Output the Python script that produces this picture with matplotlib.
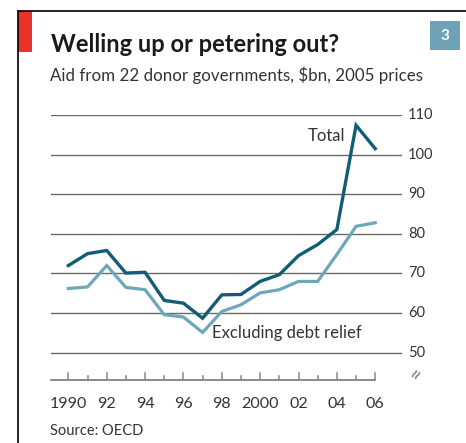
import matplotlib
matplotlib.use("Agg")
from matplotlib import pyplot as plt
from matplotlib.lines import Line2D
from matplotlib.patches import Rectangle

years = list(range(1990, 2007))
total = [72.0, 75.0, 75.8, 70.1, 70.3, 63.2, 62.5, 58.7, 64.6, 64.7,
         68.0, 69.7, 74.5, 77.3, 81.1, 107.4, 101.5]
excl_debt = [66.2, 66.6, 72.0, 66.5, 65.9, 59.6, 59.0, 55.1, 60.4, 62.1,
             65.1, 65.9, 68.0, 68.0, 74.8, 81.9, 82.8]
y_ticks = [50, 60, 70, 80, 90, 100, 110]
x_labels = ['1990', '92', '94', '96', '98', '2000', '02', '04', '06']

dark = '#115d75'
light = '#6da7ba'
grid_col = '#6a6a6a'
txt = '#333333'

plt.rcParams['font.family'] = ['Lato', 'DejaVu Sans']

W, H = 466, 443
fig = plt.figure(figsize=(W / 100, H / 100), dpi=100)

def fx(px):
    return px / W

def fy(py):
    return 1 - py / H

# frame + red tag
fig.add_artist(Line2D([fx(17.7), fx(17.7)], [fy(10.7), fy(443)], color='black', lw=1.2))
fig.add_artist(Line2D([fx(17.7), 1], [fy(10.7), fy(10.7)], color='black', lw=1.2))
fig.add_artist(Rectangle((fx(18), fy(52)), fx(13.7), (52 - 10.7) / H, color='#e8332b', lw=0))

# chart number box
fig.add_artist(Rectangle((fx(430), fy(50)), fx(30), 29 / H, color='#6fa2b6', lw=0))
fig.text(fx(445), fy(35.5), '3', color='white', fontsize=11, fontweight='bold',
         ha='center', va='center')

fig.text(fx(51), fy(44), 'Welling up or petering out?', fontsize=17,
         fontweight='bold', color='#1a1a1a', va='center')
fig.text(fx(50), fy(75), 'Aid from 22 donor governments, $bn, 2005 prices',
         fontsize=12.2, color=txt, va='center')

# axes: px 50.7..401.7 horizontally, 115..380 vertically
ax = fig.add_axes([fx(50.7), fy(380), (401.7 - 50.7) / W, (380 - 115) / H])
xmin, xmax = 1989.08, 2007.38
ymin, ymax = 43.11, 110
ax.set_xlim(xmin, xmax)
ax.set_ylim(ymin, ymax)
ax.axis('off')

for v in y_ticks:
    ax.axhline(v, color=grid_col, lw=1, zorder=1)
    ax.text(xmax + 0.33, v, str(v), fontsize=10.5, color=txt, va='center',
            ha='left', clip_on=False)

# baseline with ticks
ax.plot([xmin, 2006], [ymin, ymin], color='#777777', lw=1.2, clip_on=False, zorder=2)
for yr in years:
    h = 1.75 if yr % 2 == 0 else 0.95
    ax.plot([yr, yr], [ymin, ymin + h], color='#888888', lw=1.1, clip_on=False, zorder=2)
for i, lab in enumerate(x_labels):
    ax.text(1990 + 2 * i, ymin - 6.1, lab, fontsize=11.5, color=txt,
            ha='center', va='center', clip_on=False)

# axis break mark
ax.text(xmax + 0.75, ymin + 1.6, '\u2248', fontsize=15, color='#777777', rotation=60,
        ha='center', va='center', clip_on=False)

ax.plot(years, excl_debt, color=light, lw=2.3, solid_joinstyle='miter', zorder=3)
ax.plot(years, total, color=dark, lw=2.4, solid_joinstyle='miter', zorder=4)

ax.text(2004.45, 104.8, 'Total', fontsize=12, color=txt, ha='right', va='center')
ax.text(1997.5, 55, 'Excluding debt relief', fontsize=12, color=txt,
        ha='left', va='center')

fig.text(fx(50), fy(431), 'Source: OECD', fontsize=10.5, color=txt, va='center')

fig.savefig('out.png', dpi=100, facecolor='white')
